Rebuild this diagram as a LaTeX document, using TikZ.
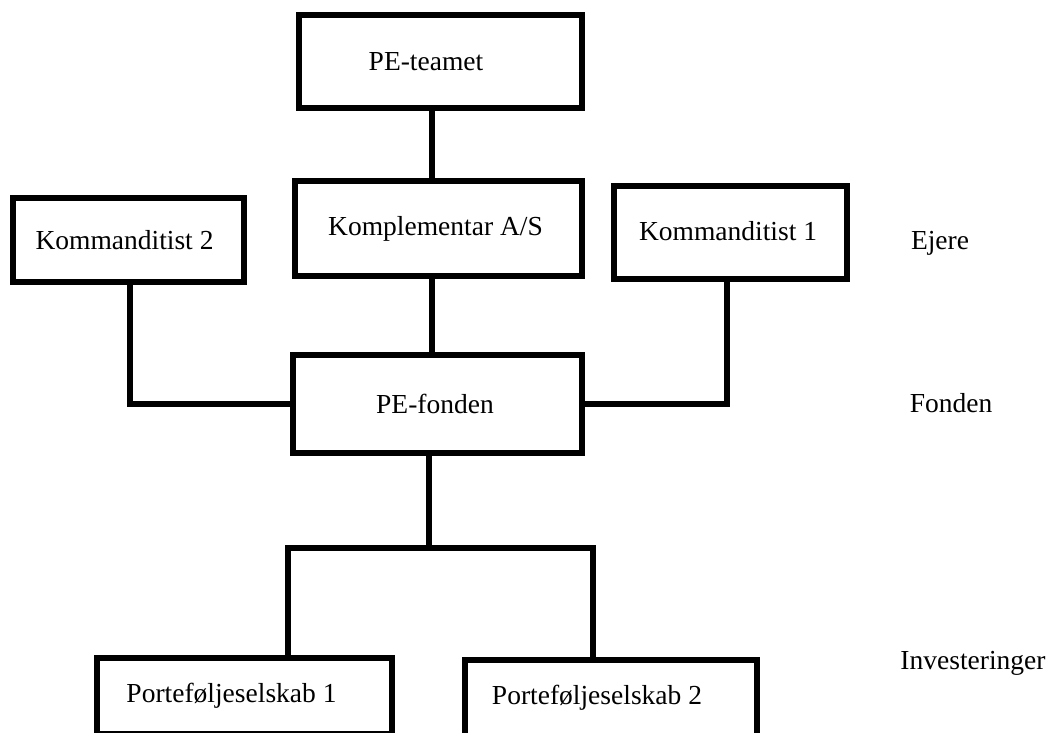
\documentclass[tikz,border=0pt]{standalone}
\usepackage{fontspec}
\setmainfont{Liberation Serif}
\begin{document}
\begin{tikzpicture}[x=1pt,y=-1pt,
  box/.style={draw=black,line width=6pt,fill=white,inner sep=0pt,font=\fontsize{27.5}{31}\selectfont},
  conn/.style={draw=black,line width=6pt},
  lab/.style={inner sep=0pt,font=\fontsize{27.5}{31}\selectfont}]
\useasboundingbox (0,0) rectangle (1046,733);
\clip (0,0) rectangle (1046,733);
% connector coordinates
\coordinate (cx) at (432,0);
\coordinate (split) at (429,548);
\coordinate (j1) at (288,548);
\coordinate (j2) at (593,548);
% boxes
\node[box,minimum width=283pt,minimum height=93pt] (team) at (440.5,61.5) {\raisebox{-2pt}{PE-teamet}\hspace*{29pt}};
\node[box,minimum width=287pt,minimum height=95pt] (komp) at (438.5,228.5) {Komplementar A/S\hspace*{6pt}};
\node[box,minimum width=231pt,minimum height=84pt] (k2) at (128.5,240) {Kommanditist 2\hspace*{8pt}};
\node[box,minimum width=233pt,minimum height=93pt] (k1) at (730.5,232.5) {\raisebox{3pt}{Kommanditist 1}\hspace*{5pt}};
\node[box,minimum width=289pt,minimum height=98pt] (fond) at (437.5,404) {PE-fonden\hspace*{5pt}};
\node[box,minimum width=295pt,minimum height=76pt] (p1) at (244.5,696) {Porteføljeselskab 1\hspace*{26pt}};
\node[box,minimum width=292pt,minimum height=76pt] (p2) at (611,698) {Porteføljeselskab 2\hspace*{28pt}};
% side labels
\node[lab] (ejere) at (940,243) {Ejere};
\node[lab] (fonden) at (951,403) {Fonden};
\node[lab] (inv) at (973,663) {Investeringer};
% connectors
\draw[conn] (team.south -| cx) -- (komp.north -| cx);
\draw[conn] (komp.south -| cx) -- (fond.north -| cx);
\draw[conn] ([xshift=1.5pt]k2.south) |- (fond.west);
\draw[conn] ([xshift=-3.5pt]k1.south) |- (fond.east);
\draw[conn] (fond.south -| split) -- (split);
\draw[conn] (p1.north -| j1) -- (j1) -- (j2) -- (p2.north -| j2);
\end{tikzpicture}
\end{document}
